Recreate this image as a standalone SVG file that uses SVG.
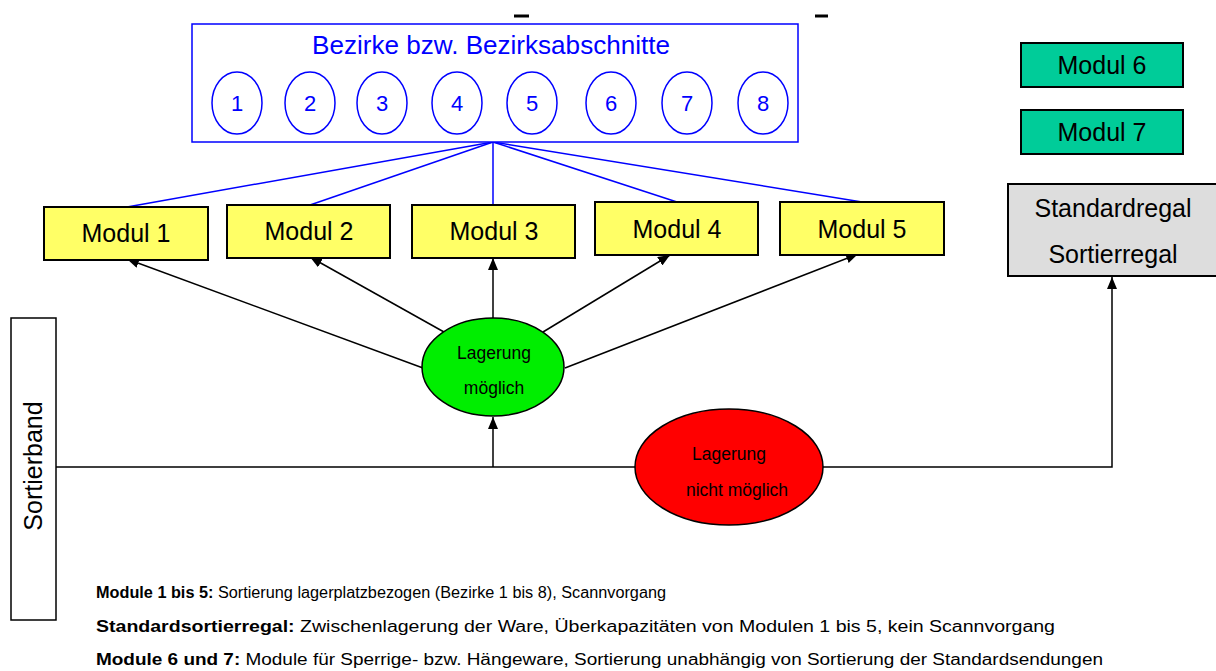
<svg xmlns="http://www.w3.org/2000/svg" width="1216" height="671" viewBox="0 0 1216 671">
<style>
text{font-family:"Liberation Sans",Arial,sans-serif}
.box{stroke:#000;stroke-width:2}
.mod{fill:#FFFF66}
.teal{fill:#00CC99}
.big{font-size:25px;text-anchor:middle;fill:#000}
.blue{fill:#0000FF;text-anchor:middle}
.bl{stroke:#0000FF;stroke-width:1.5;fill:none}
.ar{stroke:#000;stroke-width:1.5;fill:none}
.el{font-size:17.5px;text-anchor:middle;fill:#000}
.note{font-size:16px;fill:#000}
</style>
<defs>
<marker id="ah" viewBox="0 0 12 10" refX="12" refY="5" markerWidth="12" markerHeight="10" markerUnits="userSpaceOnUse" orient="auto">
<path d="M0,0 L12,5 L0,10 z" fill="#000"/>
</marker>
</defs>
<rect width="1216" height="671" fill="#fff"/>
<line x1="514" y1="16" x2="529" y2="16" stroke="#000" stroke-width="3"/>
<line x1="815" y1="16" x2="828" y2="16" stroke="#000" stroke-width="3"/>

<g id="connectors">
<line class="bl" x1="493" y1="142" x2="127" y2="207"/>
<line class="bl" x1="493" y1="142" x2="310" y2="205"/>
<line class="bl" x1="493" y1="142" x2="493" y2="205"/>
<line class="bl" x1="493" y1="142" x2="677" y2="202"/>
<line class="bl" x1="493" y1="142" x2="862" y2="202"/>
<line class="ar" x1="423" y1="368" x2="127" y2="259" marker-end="url(#ah)"/>
<line class="ar" x1="444" y1="332" x2="310" y2="257" marker-end="url(#ah)"/>
<line class="ar" x1="493" y1="318" x2="493" y2="258" marker-end="url(#ah)"/>
<line class="ar" x1="543" y1="332" x2="670" y2="255" marker-end="url(#ah)"/>
<line class="ar" x1="565" y1="368" x2="858" y2="254" marker-end="url(#ah)"/>
<polyline class="ar" points="56,467 1112,467 1112,277" marker-end="url(#ah)"/>
<line class="ar" x1="493" y1="467" x2="493" y2="417" marker-end="url(#ah)"/>
</g>

<g id="bezirke">
<rect x="192" y="24" width="606" height="118" fill="#fff" stroke="#0000FF" stroke-width="1.5"/>
<text class="blue" x="491" y="54" font-size="25" textLength="358" lengthAdjust="spacingAndGlyphs">Bezirke bzw. Bezirksabschnitte</text>
<g fill="#fff" stroke="#0000FF" stroke-width="1.5">
<ellipse cx="237" cy="103" rx="25" ry="31"/>
<ellipse cx="310" cy="103" rx="25" ry="31"/>
<ellipse cx="382" cy="103" rx="25" ry="31"/>
<ellipse cx="457" cy="103" rx="25" ry="31"/>
<ellipse cx="532" cy="103" rx="25" ry="31"/>
<ellipse cx="611" cy="103" rx="25" ry="31"/>
<ellipse cx="687" cy="103" rx="25" ry="31"/>
<ellipse cx="763" cy="103" rx="25" ry="31"/>
</g>
<g class="blue" font-size="22">
<text x="237" y="111">1</text>
<text x="310" y="111">2</text>
<text x="382" y="111">3</text>
<text x="457" y="111">4</text>
<text x="532" y="111">5</text>
<text x="611" y="111">6</text>
<text x="687" y="111">7</text>
<text x="763" y="111">8</text>
</g>
</g>

<g id="modul1"><rect class="box mod" x="44" y="207" width="164" height="53"/><text class="big" x="126" y="242">Modul 1</text></g>
<g id="modul2"><rect class="box mod" x="227" y="205" width="163" height="53"/><text class="big" x="309" y="240">Modul 2</text></g>
<g id="modul3"><rect class="box mod" x="412" y="205" width="163" height="53"/><text class="big" x="494" y="240">Modul 3</text></g>
<g id="modul4"><rect class="box mod" x="595" y="202" width="163" height="53"/><text class="big" x="677" y="238">Modul 4</text></g>
<g id="modul5"><rect class="box mod" x="780" y="202" width="164" height="53"/><text class="big" x="862" y="238">Modul 5</text></g>

<g id="modul6"><rect class="box teal" x="1021" y="43" width="162" height="44"/><text class="big" x="1102" y="74">Modul 6</text></g>
<g id="modul7"><rect class="box teal" x="1021" y="110" width="162" height="44"/><text class="big" x="1102" y="141">Modul 7</text></g>

<g id="standardregal">
<rect class="box" x="1008" y="184" width="212" height="92" fill="#DDDDDD"/>
<text class="big" x="1113" y="217">Standardregal</text>
<text class="big" x="1113" y="263">Sortierregal</text>
</g>

<g id="sortierband">
<rect x="11" y="318" width="45" height="302" fill="#fff" stroke="#000" stroke-width="1.5"/>
<text class="big" transform="translate(42,466) rotate(-90)" x="0" y="0">Sortierband</text>
</g>

<g id="lagerung-moeglich">
<ellipse cx="493" cy="367" rx="71" ry="49" fill="#00EE00" stroke="#000" stroke-width="1.5"/>
<text class="el" x="494" y="359">Lagerung</text>
<text class="el" x="494" y="394">möglich</text>
</g>

<g id="lagerung-nicht-moeglich">
<ellipse cx="729" cy="467" rx="94" ry="58" fill="#FF0000" stroke="#000" stroke-width="1.5"/>
<text class="el" x="729" y="460">Lagerung</text>
<text class="el" x="737" y="496">nicht möglich</text>
</g>

<g id="legend">
<text class="note" x="96" y="598" textLength="570" lengthAdjust="spacingAndGlyphs"><tspan font-weight="bold">Module 1 bis 5:</tspan> Sortierung lagerplatzbezogen (Bezirke 1 bis 8), Scannvorgang</text>
<text class="note" x="96" y="632" textLength="959" lengthAdjust="spacingAndGlyphs"><tspan font-weight="bold">Standardsortierregal:</tspan> Zwischenlagerung der Ware, Überkapazitäten von Modulen 1 bis 5, kein Scannvorgang</text>
<text class="note" x="96" y="665" textLength="1007" lengthAdjust="spacingAndGlyphs"><tspan font-weight="bold">Module 6 und 7:</tspan> Module für Sperrige- bzw. Hängeware, Sortierung unabhängig von Sortierung der Standardsendungen</text>
</g>
</svg>
